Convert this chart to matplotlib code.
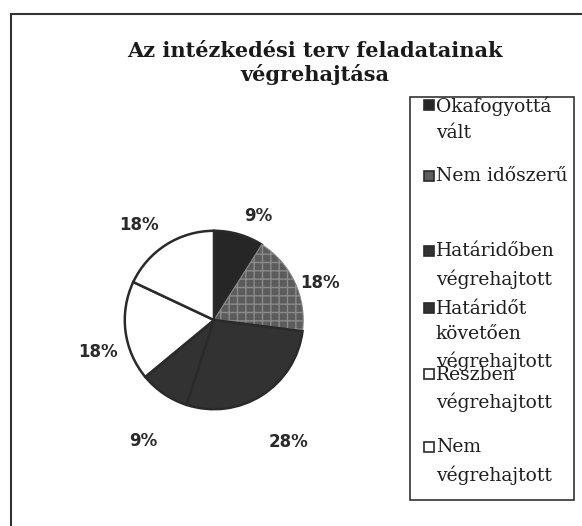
import matplotlib
matplotlib.use("Agg")
import matplotlib.pyplot as plt
from matplotlib.patches import Rectangle
import numpy as np

# ---- data ----
categories = ["Okafogyottá\nvált", "Nem időszerű", "Határidőben\nvégrehajtott",
              "Határidőt\nkövetően\nvégrehajtott", "Részben\nvégrehajtott",
              "Nem\nvégrehajtott"]
values = [9, 18, 28, 9, 18, 18]
pct_labels = ["9%", "18%", "28%", "9%", "18%", "18%"]
title = "Az intézkedési terv feladatainak\nvégrehajtása"

# ---- styles / layout ----
colors = ["#262626", "#5c5c5c", "#323232", "#323232", "white", "white"]
hatches = [None, "++", None, None, None, None]
label_dist = [1.27, 1.26, 1.60, 1.57, 1.35, 1.36]
label_dang = [-7, -6, -1, 4, 8, 6]          # angular nudges (deg, ccw)
legend_base = [111, 182, 257, 314, 380, 453]  # first-line baselines in px

plt.rcParams["hatch.linewidth"] = 1.0

W, H = 582, 526
fig = plt.figure(figsize=(W / 100, H / 100), dpi=100)
fig.patch.set_facecolor("white")


def fx(x):
    return x / W


def fy(y):
    return 1 - y / H


# outer frame (runs off the right/bottom edges)
fig.add_artist(Rectangle((fx(11), fy(540)), fx(600) - fx(11), fy(14) - fy(540),
                         transform=fig.transFigure, fill=False,
                         edgecolor="#333333", linewidth=1.5))

# title
fig.text(fx(315), fy(41), title, ha="center", va="top",
         family="DejaVu Serif", fontweight="heavy", fontsize=15,
         linespacing=1.2, color="#1a1a1a")

# pie
R = 91
cx, cy = 214, 320
ax = fig.add_axes([fx(cx - R), fy(cy + R), 2 * R / W, 2 * R / H])
wedges, _ = ax.pie(values, colors=colors, startangle=90, counterclock=False,
                   radius=1,
                   wedgeprops=dict(edgecolor="#2a2a2a", linewidth=1.8))
for w, h in zip(wedges, hatches):
    if h:
        w.set_hatch(h)
        w.set_edgecolor("#8a8a8a")
        w.set_linewidth(0.8)
ax.set_xlim(-1.02, 1.02)
ax.set_ylim(-1.02, 1.02)

for w, lab, d, da in zip(wedges, pct_labels, label_dist, label_dang):
    ang = np.deg2rad((w.theta1 + w.theta2) / 2 + da)
    ax.text(d * np.cos(ang), d * np.sin(ang), lab, ha="center", va="center",
            family="DejaVu Sans", fontweight="bold", fontsize=12,
            color="#2a2a2a")

# legend
fig.add_artist(Rectangle((fx(410), fy(500)), fx(574) - fx(410), fy(97) - fy(500),
                         transform=fig.transFigure, fill=False,
                         edgecolor="#333333", linewidth=1.2))
for lab, col, yb in zip(categories, colors, legend_base):
    fig.add_artist(Rectangle((fx(424), fy(yb - 1)), 10 / W, 10 / H,
                             transform=fig.transFigure, facecolor=col,
                             edgecolor="#2a2a2a", linewidth=1.2))
    fig.text(fx(436), fy(yb - 14.5), lab, ha="left", va="top",
             family="DejaVu Serif", fontsize=13.5, linespacing=1.55,
             color="#1e1e1e")

fig.savefig("out.png", dpi=100, facecolor="white")
